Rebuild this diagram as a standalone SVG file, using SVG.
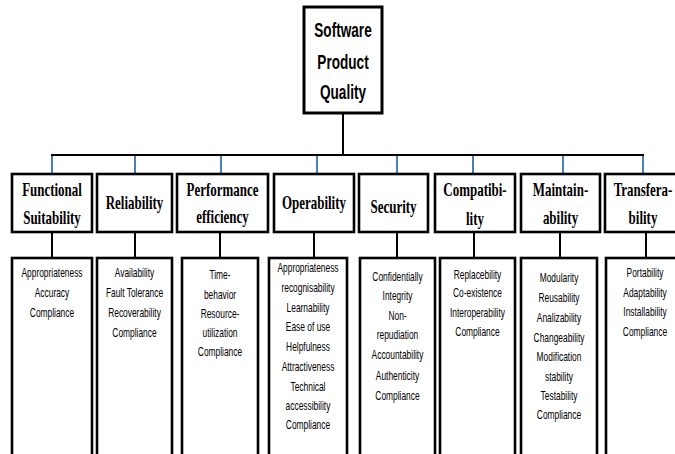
<svg xmlns="http://www.w3.org/2000/svg" width="675" height="454" viewBox="0 0 675 454">
<style>
.box{fill:#fff;stroke:#000;stroke-width:2.6}
.top{fill:#fff;stroke:#000;stroke-width:3}
.blk{stroke:#000;stroke-width:2;fill:none}
.blu{stroke:#4a7ebb;stroke-width:2;fill:none}
.t0{font-family:"Liberation Sans",Arial,sans-serif;font-weight:bold;font-size:20px;text-anchor:middle;fill:#000}
.cat{font-family:"Liberation Serif","Times New Roman",serif;font-weight:bold;font-size:18px;text-anchor:middle;fill:#000}
.det{font-family:"Liberation Sans",Arial,sans-serif;font-size:12px;text-anchor:middle;fill:#000}
</style>
<rect width="675" height="454" fill="#fff"/>
<g id="connectors">
<line class="blk" x1="343" y1="113" x2="343" y2="155"/>
<line class="blk" x1="51" y1="155" x2="644" y2="155"/>
<line class="blu" x1="52" y1="156" x2="52" y2="174"/>
<line class="blu" x1="135" y1="156" x2="135" y2="174"/>
<line class="blu" x1="221" y1="156" x2="221" y2="174"/>
<line class="blu" x1="317" y1="156" x2="317" y2="174"/>
<line class="blu" x1="397" y1="156" x2="397" y2="174"/>
<line class="blu" x1="473" y1="156" x2="473" y2="174"/>
<line class="blu" x1="563" y1="156" x2="563" y2="174"/>
<line class="blu" x1="643" y1="156" x2="643" y2="174"/>
<line class="blk" x1="52" y1="232" x2="52" y2="258"/>
<line class="blk" x1="135" y1="232" x2="135" y2="258"/>
<line class="blk" x1="220" y1="232" x2="220" y2="258"/>
<line class="blk" x1="314" y1="232" x2="314" y2="258"/>
<line class="blk" x1="397" y1="232" x2="397" y2="258"/>
<line class="blk" x1="474" y1="232" x2="474" y2="258"/>
<line class="blk" x1="560" y1="232" x2="560" y2="258"/>
<line class="blk" x1="646" y1="232" x2="646" y2="258"/>
</g>
<g id="root">
<rect class="top" x="304" y="7" width="78" height="106"/>
<g transform="translate(343,0) scale(0.68,1)">
<text class="t0" x="0" y="37">Software</text>
<text class="t0" x="0" y="69">Product</text>
<text class="t0" x="0" y="99">Quality</text>
</g>
</g>
<g id="functional">
<rect class="box" x="12" y="174" width="80" height="58"/>
<g transform="translate(52,0) scale(0.72,1)">
<text class="cat" x="0" y="196">Functional</text>
<text class="cat" x="0" y="224">Suitability</text>
</g>
<rect class="box" x="12" y="258" width="80" height="210"/>
<g transform="translate(52,0) scale(0.7,1)">
<text class="det" x="0" y="277">Appropriateness</text>
<text class="det" x="0" y="297">Accuracy</text>
<text class="det" x="0" y="317">Compliance</text>
</g>
</g>
<g id="reliability">
<rect class="box" x="97" y="174" width="75" height="58"/>
<g transform="translate(134.5,0) scale(0.72,1)">
<text class="cat" x="0" y="209">Reliability</text>
</g>
<rect class="box" x="97" y="258" width="75" height="210"/>
<g transform="translate(134.5,0) scale(0.7,1)">
<text class="det" x="0" y="277">Availability</text>
<text class="det" x="0" y="297">Fault Tolerance</text>
<text class="det" x="0" y="317">Recoverability</text>
<text class="det" x="0" y="337">Compliance</text>
</g>
</g>
<g id="performance">
<rect class="box" x="177" y="174" width="91" height="58"/>
<g transform="translate(222.5,0) scale(0.72,1)">
<text class="cat" x="0" y="196">Performance</text>
<text class="cat" x="0" y="223">efficiency</text>
</g>
<rect class="box" x="182" y="258" width="76" height="210"/>
<g transform="translate(220,0) scale(0.7,1)">
<text class="det" x="0" y="279">Time-</text>
<text class="det" x="0" y="299">behavior</text>
<text class="det" x="0" y="318">Resource-</text>
<text class="det" x="0" y="337">utilization</text>
<text class="det" x="0" y="356">Compliance</text>
</g>
</g>
<g id="operability">
<rect class="box" x="274" y="174" width="80" height="58"/>
<g transform="translate(314,0) scale(0.72,1)">
<text class="cat" x="0" y="209">Operability</text>
</g>
<rect class="box" x="269" y="258" width="78" height="210"/>
<g transform="translate(308,0) scale(0.7,1)">
<text class="det" x="0" y="272">Appropriateness</text>
<text class="det" x="0" y="292">recognisability</text>
<text class="det" x="0" y="312">Learnability</text>
<text class="det" x="0" y="331">Ease of use</text>
<text class="det" x="0" y="351">Helpfulness</text>
<text class="det" x="0" y="371">Attractiveness</text>
<text class="det" x="0" y="391">Technical</text>
<text class="det" x="0" y="410">accessibility</text>
<text class="det" x="0" y="429">Compliance</text>
</g>
</g>
<g id="security">
<rect class="box" x="359" y="174" width="69" height="58"/>
<g transform="translate(393.5,0) scale(0.72,1)">
<text class="cat" x="0" y="213">Security</text>
</g>
<rect class="box" x="360" y="258" width="75" height="210"/>
<g transform="translate(397.5,0) scale(0.7,1)">
<text class="det" x="0" y="281">Confidentially</text>
<text class="det" x="0" y="300">Integrity</text>
<text class="det" x="0" y="320">Non-</text>
<text class="det" x="0" y="339">repudiation</text>
<text class="det" x="0" y="359">Accountability</text>
<text class="det" x="0" y="380">Authenticity</text>
<text class="det" x="0" y="400">Compliance</text>
</g>
</g>
<g id="compatibility">
<rect class="box" x="435" y="174" width="80" height="58"/>
<g transform="translate(475,0) scale(0.72,1)">
<text class="cat" x="0" y="196">Compatibi-</text>
<text class="cat" x="0" y="225">lity</text>
</g>
<rect class="box" x="440" y="258" width="75" height="210"/>
<g transform="translate(477.5,0) scale(0.7,1)">
<text class="det" x="0" y="279">Replacebility</text>
<text class="det" x="0" y="297">Co-existence</text>
<text class="det" x="0" y="317">Interoperability</text>
<text class="det" x="0" y="336">Compliance</text>
</g>
</g>
<g id="maintainability">
<rect class="box" x="521" y="174" width="79" height="58"/>
<g transform="translate(560.5,0) scale(0.72,1)">
<text class="cat" x="0" y="196">Maintain-</text>
<text class="cat" x="0" y="224">ability</text>
</g>
<rect class="box" x="521" y="258" width="76" height="210"/>
<g transform="translate(559,0) scale(0.7,1)">
<text class="det" x="0" y="282">Modularity</text>
<text class="det" x="0" y="302">Reusability</text>
<text class="det" x="0" y="322">Analizability</text>
<text class="det" x="0" y="342">Changeability</text>
<text class="det" x="0" y="361">Modification</text>
<text class="det" x="0" y="381">stability</text>
<text class="det" x="0" y="400">Testability</text>
<text class="det" x="0" y="419">Compliance</text>
</g>
</g>
<g id="transferability">
<rect class="box" x="605" y="174" width="80" height="58"/>
<g transform="translate(643,0) scale(0.72,1)">
<text class="cat" x="0" y="196">Transfera-</text>
<text class="cat" x="0" y="224">bility</text>
</g>
<rect class="box" x="606" y="258" width="80" height="210"/>
<g transform="translate(645,0) scale(0.7,1)">
<text class="det" x="0" y="277">Portability</text>
<text class="det" x="0" y="297">Adaptability</text>
<text class="det" x="0" y="316">Installability</text>
<text class="det" x="0" y="336">Compliance</text>
</g>
</g>
</svg>
